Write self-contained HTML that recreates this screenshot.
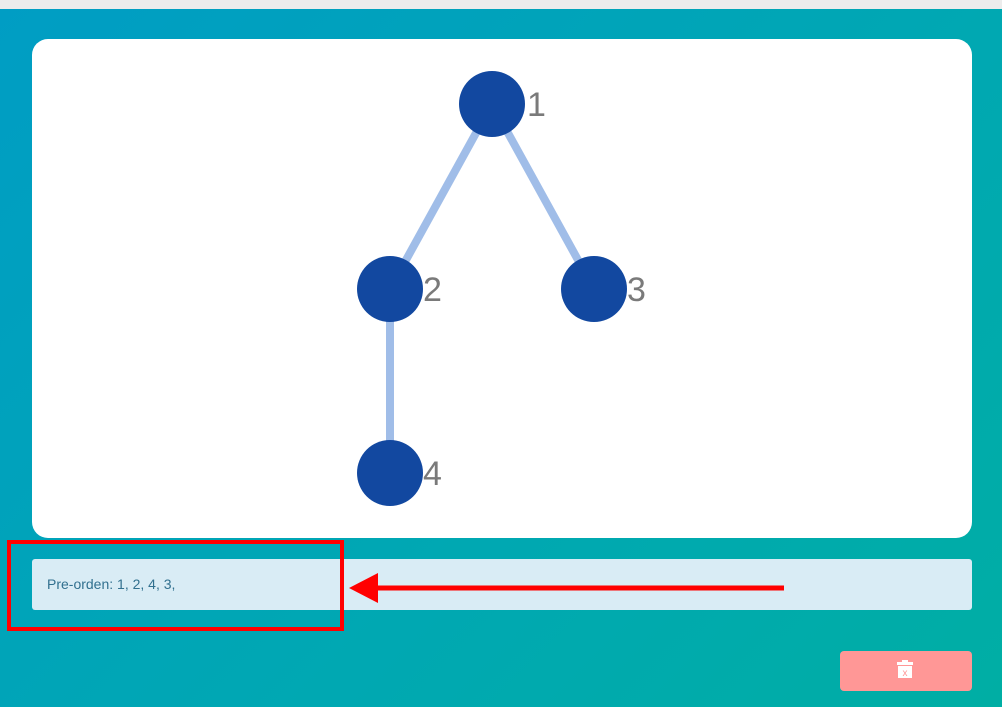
<!DOCTYPE html>
<html><head><meta charset="utf-8"><style>
html,body{margin:0;padding:0;width:1002px;height:707px;overflow:hidden;font-family:"Liberation Sans",sans-serif}
body{background:linear-gradient(135deg,#009dc4 0%,#00a8b2 60%,#00aea4 100%);position:relative}
.top{position:absolute;left:0;top:0;width:1002px;height:9px;background:#ececec}
.card{position:absolute;left:32px;top:39px;width:940px;height:499px;background:#fff;border-radius:16px}
.info{position:absolute;left:32px;top:559px;width:940px;height:51px;background:#d9ecf5;border-radius:3px;color:#31708f;font-size:14px;line-height:51px;box-sizing:border-box;padding-left:15px}
.btn{position:absolute;left:840px;top:651px;width:132px;height:40px;background:#ff9796;border-radius:4px}
svg{position:absolute;left:0;top:0}
</style></head><body>
<div class="top"></div>
<div class="card"></div>
<div class="info">Pre-orden: 1, 2, 4, 3,</div>
<div class="btn"></div>
<svg width="1002" height="707">
<g stroke="#a0bde8" stroke-width="8">
<line x1="492" y1="104" x2="390" y2="289"/>
<line x1="492" y1="104" x2="594" y2="289"/>
<line x1="390" y1="289" x2="390" y2="473"/>
</g>
<g fill="#1248a0">
<circle cx="492" cy="104" r="33"/>
<circle cx="390" cy="289" r="33"/>
<circle cx="594" cy="289" r="33"/>
<circle cx="390" cy="473" r="33"/>
</g>
<g fill="#7a7a7a" font-size="34" font-family="Liberation Sans,sans-serif">
<text x="527" y="116">1</text>
<text x="423" y="301">2</text>
<text x="627" y="301">3</text>
<text x="423" y="485">4</text>
</g>
<rect x="9" y="542" width="333" height="87" fill="none" stroke="#ff0000" stroke-width="4"/>
<line x1="784" y1="588" x2="372" y2="588" stroke="#ff0000" stroke-width="5"/>
<polygon points="349,588 378,573 378,603" fill="#ff0000"/>
<g fill="#fff">
<rect x="897" y="662" width="16" height="3"/>
<rect x="902" y="660" width="6" height="3"/>
<rect x="898" y="666" width="14" height="12"/>
</g>
<text x="905" y="676" font-size="10" fill="#ff9796" text-anchor="middle" font-family="Liberation Sans,sans-serif">x</text>
</svg>
</body></html>
